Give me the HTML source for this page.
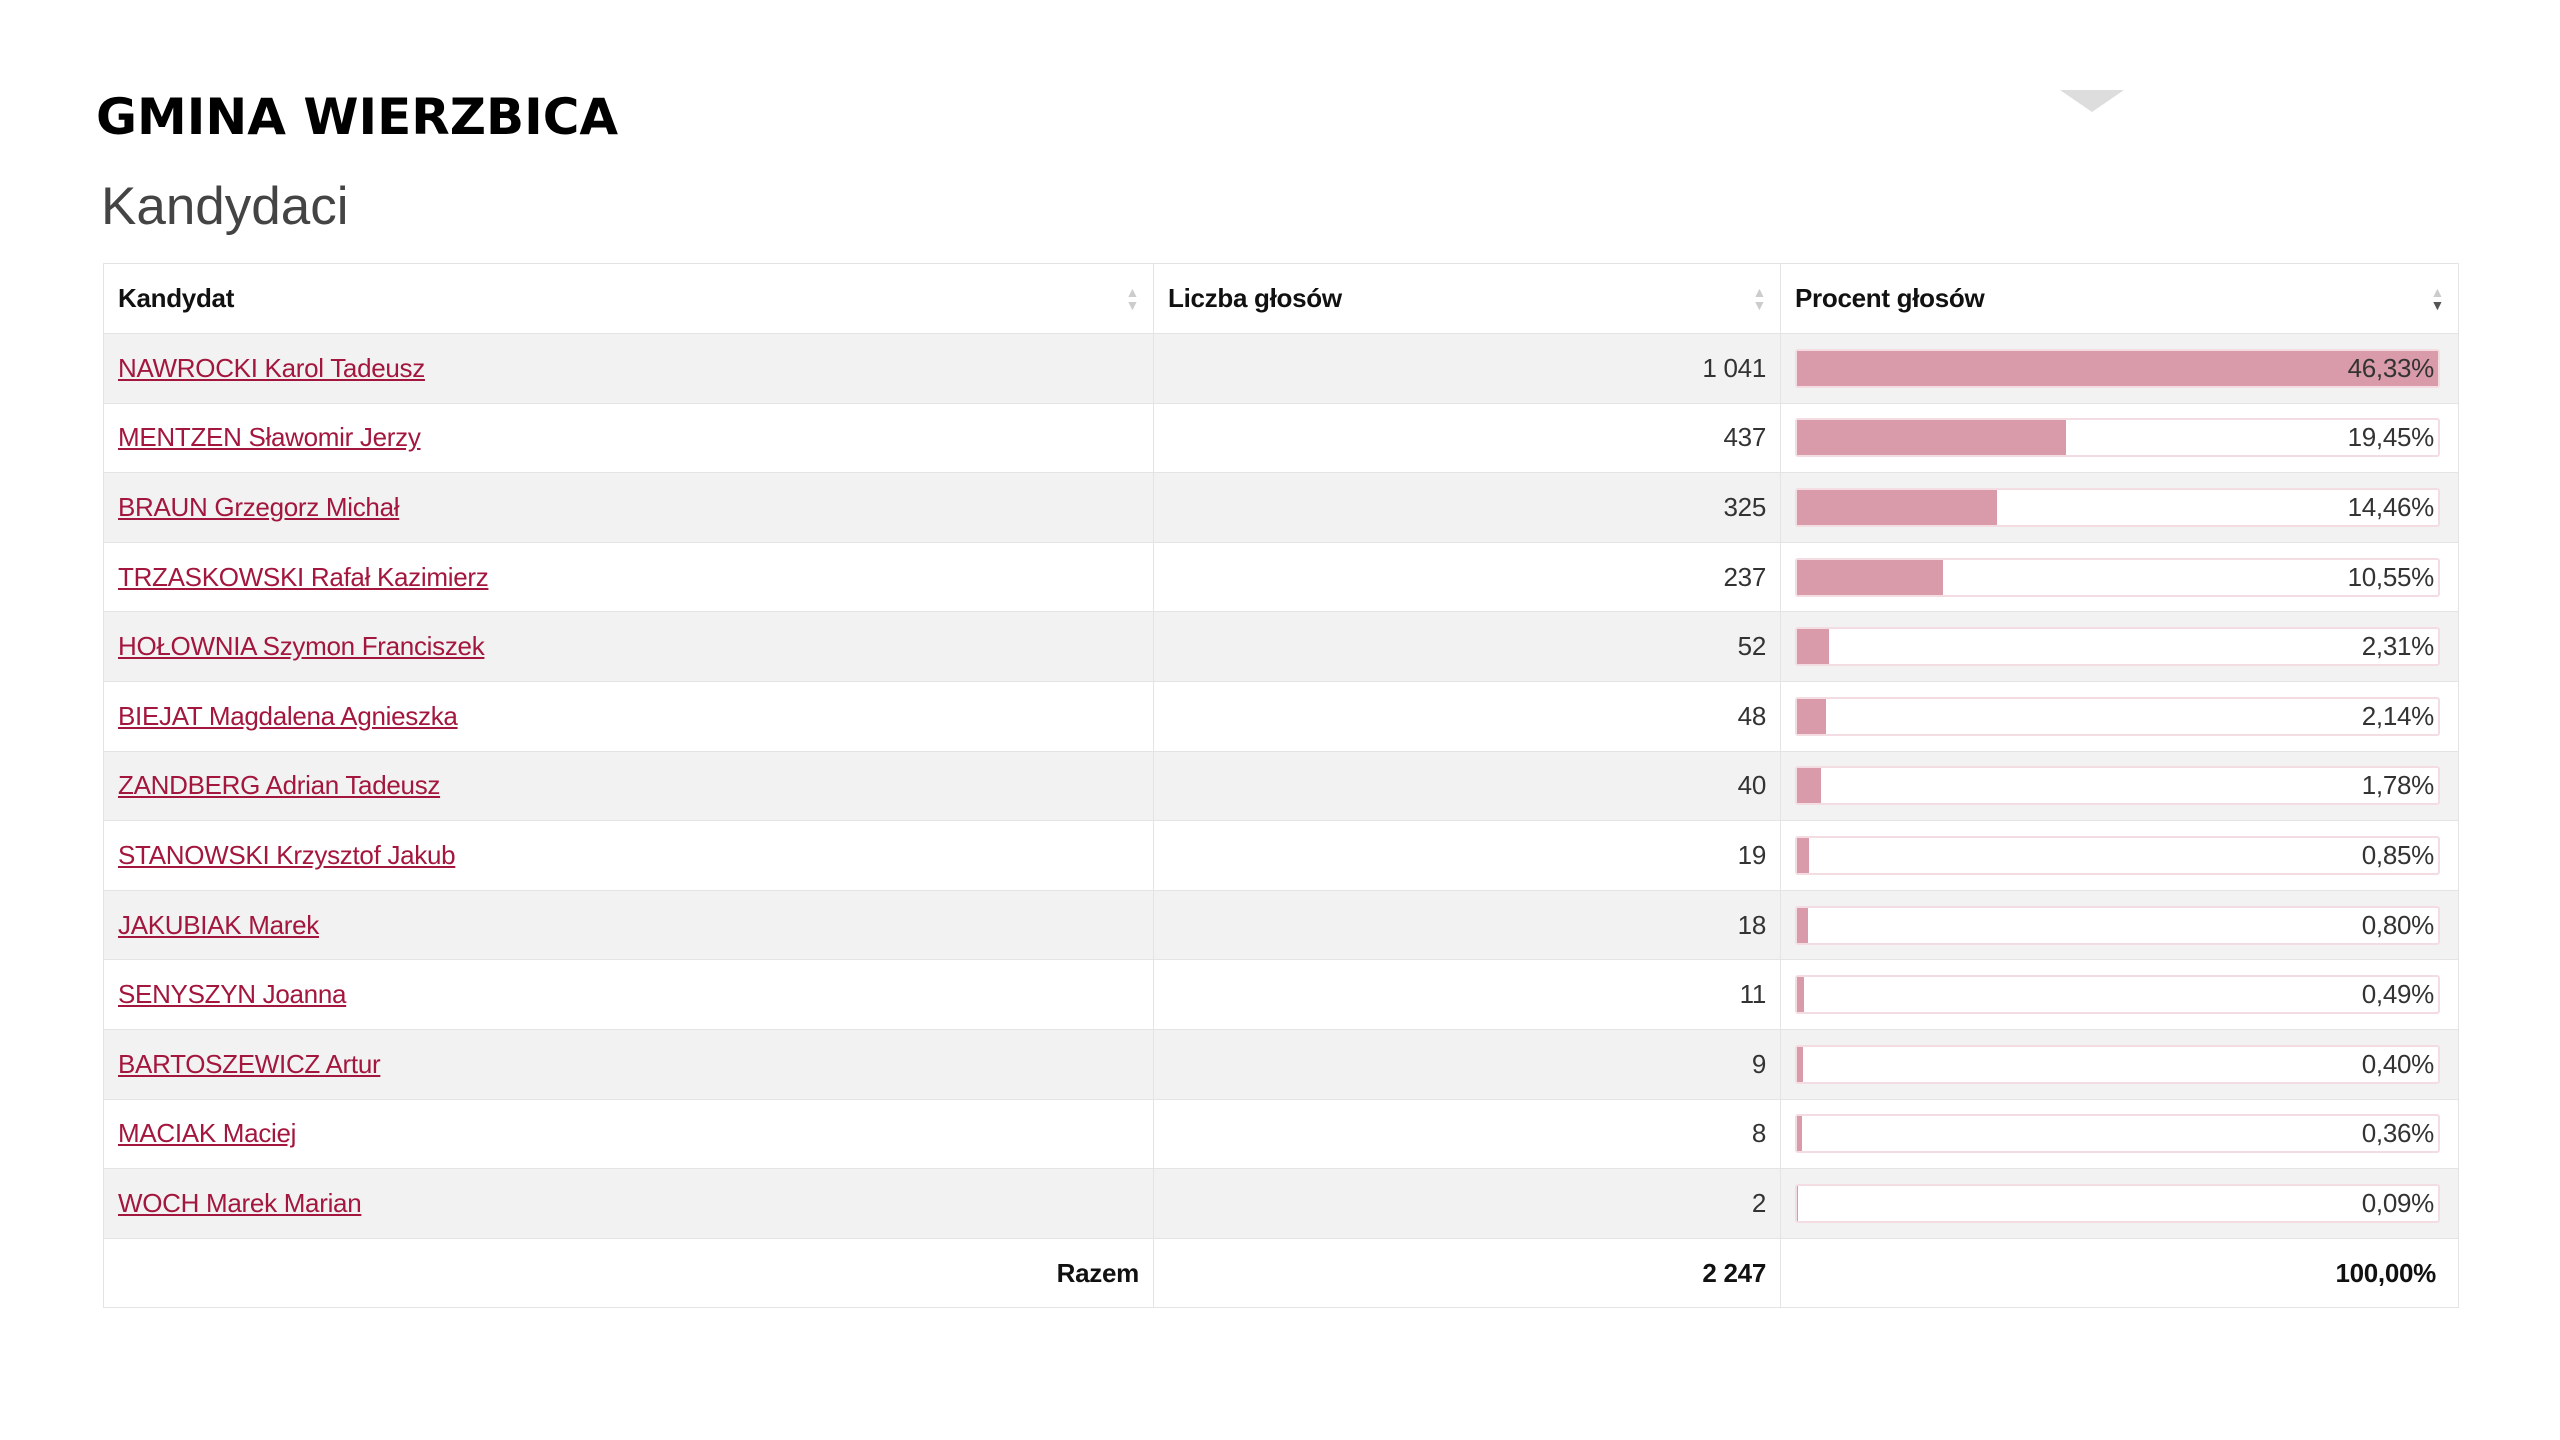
<!DOCTYPE html>
<html><head><meta charset="utf-8"><style>
body{margin:0;width:2560px;height:1440px;background:#fff;position:relative;font-family:"Liberation Sans",sans-serif;overflow:hidden}
.t{position:absolute;left:96px;top:88px;font:bold 50px "DejaVu Sans",sans-serif;color:#000}
.k{position:absolute;left:101px;top:176px;font-size:53px;color:#444}
table{position:absolute;left:103px;top:263px;width:2356px;border-collapse:collapse;font-size:26px;color:#333;letter-spacing:-0.3px}
td,th{border:1px solid #e4e4e4;height:69.6px;padding:0 14px;box-sizing:border-box}
th{text-align:left;font-weight:bold;color:#111;height:70px;position:relative}
tr:nth-child(even) td{background:#f2f2f2}
td.n{text-align:right}
a{color:#a3163d;text-decoration:underline}
.bar{position:relative;height:35px;border:2px solid #f3dde3;border-radius:3px;background:#fff;margin-right:4px}
.bar i{position:absolute;left:0;top:0;bottom:0;background:#d99aaa}
.bar span{position:absolute;right:4px;top:0;line-height:35px}
.s{position:absolute;right:14px;top:22px;font-size:14px;line-height:13px;color:#ccc}
.tot td{font-weight:bold;color:#111;text-align:right;background:#fff}
.tot td:last-child{padding-right:22px}
.tri{position:absolute;left:2060px;top:90px;width:0;height:0;border-left:32px solid transparent;border-right:32px solid transparent;border-top:22px solid #ddd}
</style></head><body>
<div class="t">GMINA WIERZBICA</div>
<div class="tri"></div>
<div class="k">Kandydaci</div>
<table>
<colgroup><col style="width:1050px"><col style="width:627px"><col></colgroup>
<tr><th>Kandydat<span class="s">▲<br>▼</span></th><th>Liczba głosów<span class="s">▲<br>▼</span></th><th>Procent głosów<span class="s">▲<br><b style="color:#555">▼</b></span></th></tr>
<tr><td><a>NAWROCKI Karol Tadeusz</a></td><td class="n">1 041</td><td><div class="bar"><i style="width:100%"></i><span>46,33%</span></div></td></tr>
<tr><td><a>MENTZEN Sławomir Jerzy</a></td><td class="n">437</td><td><div class="bar"><i style="width:42%"></i><span>19,45%</span></div></td></tr>
<tr><td><a>BRAUN Grzegorz Michał</a></td><td class="n">325</td><td><div class="bar"><i style="width:31.2%"></i><span>14,46%</span></div></td></tr>
<tr><td><a>TRZASKOWSKI Rafał Kazimierz</a></td><td class="n">237</td><td><div class="bar"><i style="width:22.8%"></i><span>10,55%</span></div></td></tr>
<tr><td><a>HOŁOWNIA Szymon Franciszek</a></td><td class="n">52</td><td><div class="bar"><i style="width:5%"></i><span>2,31%</span></div></td></tr>
<tr><td><a>BIEJAT Magdalena Agnieszka</a></td><td class="n">48</td><td><div class="bar"><i style="width:4.6%"></i><span>2,14%</span></div></td></tr>
<tr><td><a>ZANDBERG Adrian Tadeusz</a></td><td class="n">40</td><td><div class="bar"><i style="width:3.8%"></i><span>1,78%</span></div></td></tr>
<tr><td><a>STANOWSKI Krzysztof Jakub</a></td><td class="n">19</td><td><div class="bar"><i style="width:1.8%"></i><span>0,85%</span></div></td></tr>
<tr><td><a>JAKUBIAK Marek</a></td><td class="n">18</td><td><div class="bar"><i style="width:1.7%"></i><span>0,80%</span></div></td></tr>
<tr><td><a>SENYSZYN Joanna</a></td><td class="n">11</td><td><div class="bar"><i style="width:1.05%"></i><span>0,49%</span></div></td></tr>
<tr><td><a>BARTOSZEWICZ Artur</a></td><td class="n">9</td><td><div class="bar"><i style="width:0.86%"></i><span>0,40%</span></div></td></tr>
<tr><td><a>MACIAK Maciej</a></td><td class="n">8</td><td><div class="bar"><i style="width:0.78%"></i><span>0,36%</span></div></td></tr>
<tr><td><a>WOCH Marek Marian</a></td><td class="n">2</td><td><div class="bar"><i style="width:0.2%"></i><span>0,09%</span></div></td></tr>
<tr class="tot"><td>Razem</td><td>2 247</td><td>100,00%</td></tr>
</table>
</body></html>
